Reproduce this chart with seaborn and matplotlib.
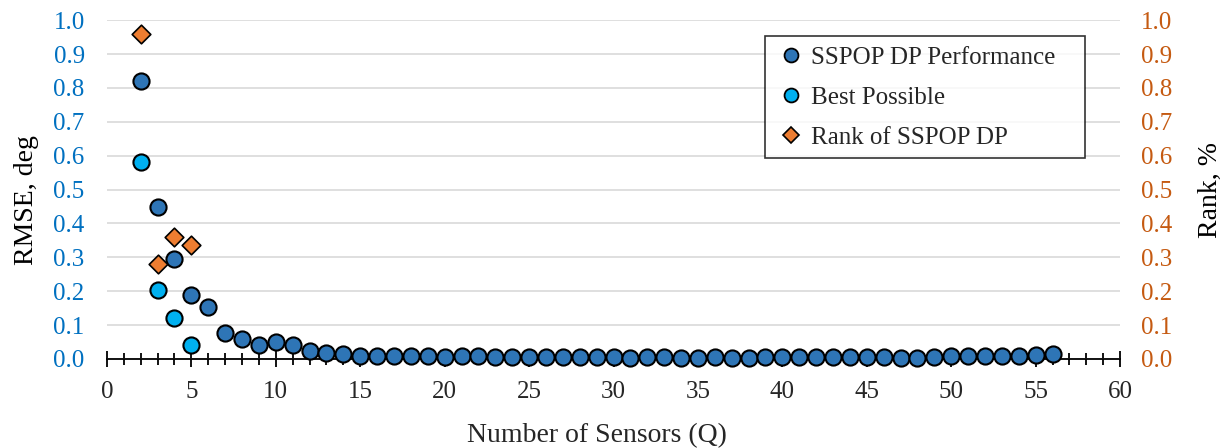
import matplotlib
matplotlib.use("Agg")
import matplotlib.pyplot as plt
import seaborn as sns
import numpy as np
import pandas as pd
from matplotlib.ticker import MultipleLocator
from matplotlib.lines import Line2D

sensors = list(range(2, 57))
sspop_rmse = [0.82, 0.45, 0.295, 0.19, 0.152, 0.077, 0.06, 0.04, 0.05, 0.04,
              0.025, 0.018, 0.015, 0.01, 0.01, 0.01, 0.009, 0.008, 0.007, 0.008,
              0.008, 0.007, 0.006, 0.006, 0.006, 0.006, 0.005, 0.006, 0.005, 0.004,
              0.005, 0.005, 0.004, 0.004, 0.005, 0.004, 0.004, 0.005, 0.005, 0.005,
              0.006, 0.006, 0.006, 0.005, 0.005, 0.004, 0.004, 0.006, 0.008, 0.008,
              0.008, 0.008, 0.009, 0.011, 0.014]
best_q = [2, 3, 4, 5]
best_rmse = [0.58, 0.205, 0.12, 0.04]
rank_q = [2, 3, 4, 5]
rank_pct = [0.96, 0.28, 0.36, 0.335]

c_dark = "#2E75B6"
c_light = "#00B0F0"
c_orange = "#ED7D31"
c_left = "#0070C0"
c_right = "#C55A11"

sns.set_theme(style="white")
plt.rcParams['font.family'] = ['Liberation Serif', 'DejaVu Serif']

fig = plt.figure(figsize=(12.28, 4.48), dpi=100)
ax = fig.add_axes([0.0871, 0.1987, 0.8250, 0.7563])
ax2 = ax.twinx()

df1 = pd.DataFrame({"Q": sensors, "RMSE": sspop_rmse})
df2 = pd.DataFrame({"Q": best_q, "RMSE": best_rmse})
df3 = pd.DataFrame({"Q": rank_q, "Rank": rank_pct})

sns.scatterplot(data=df1, x="Q", y="RMSE", ax=ax, color=c_dark, s=135,
                edgecolor="black", linewidth=1.5, zorder=5, clip_on=False)
sns.scatterplot(data=df2, x="Q", y="RMSE", ax=ax, color=c_light, s=135,
                edgecolor="black", linewidth=1.5, zorder=5, clip_on=False)
sns.scatterplot(data=df3, x="Q", y="Rank", ax=ax2, color=c_orange, s=90, marker="D",
                edgecolor="black", linewidth=1.2, zorder=5, clip_on=False)

ax.set_xlim(0, 60)
ax.set_ylim(0, 1.0)
ax2.set_ylim(0, 1.0)
yt = np.arange(0, 1.01, 0.1)
ax.set_yticks(yt)
ax2.set_yticks(yt)
ax.set_yticklabels([f"{v:.1f}" for v in yt], color=c_left, fontsize=18)
ax2.set_yticklabels([f"{v:.1f}" for v in yt], color=c_right, fontsize=18)
ax.xaxis.set_major_locator(MultipleLocator(5))
ax.xaxis.set_minor_locator(MultipleLocator(1))
ax.tick_params(axis="x", which="major", direction="inout", length=11, width=1.3,
               color="black", labelsize=18, pad=10, bottom=True)
ax.tick_params(axis="x", which="minor", direction="inout", length=8, width=1.3,
               color="black", bottom=True)
ax.tick_params(axis="y", length=0, pad=16)
ax2.tick_params(axis="y", length=0, pad=15)

for s in ["left", "right", "top"]:
    ax.spines[s].set_visible(False)
    ax2.spines[s].set_visible(False)
ax2.spines["bottom"].set_visible(False)
ax.spines["bottom"].set_color("black")
ax.spines["bottom"].set_linewidth(1.3)

ax.grid(axis="y", color="#D9D9D9", linewidth=1.2)
ax.set_axisbelow(True)

ax.set_xlabel("Number of Sensors (Q)", fontsize=20, color="#262626", labelpad=6)
ax.xaxis.set_label_coords(0.484, -0.19)
ax.set_ylabel("RMSE, deg", fontsize=20, color="black", labelpad=10)
ax.yaxis.set_label_coords(-0.067, 0.47)
ax2.set_ylabel("Rank, %", fontsize=20, color="black", labelpad=10)
ax2.yaxis.set_label_coords(1.077, 0.5)

handles = [
    Line2D([], [], marker="o", linestyle="none", markerfacecolor=c_dark,
           markeredgecolor="black", markersize=10, markeredgewidth=1.3),
    Line2D([], [], marker="o", linestyle="none", markerfacecolor=c_light,
           markeredgecolor="black", markersize=10, markeredgewidth=1.3),
    Line2D([], [], marker="D", linestyle="none", markerfacecolor=c_orange,
           markeredgecolor="black", markersize=8, markeredgewidth=1.2),
]
leg = ax2.legend(handles, ["SSPOP DP Performance", "Best Possible", "Rank of SSPOP DP"],
                 loc="upper left", mode="expand",
                 bbox_to_anchor=(765 / 1228, 1 - 155 / 448, 320 / 1228, 119 / 448),
                 bbox_transform=fig.transFigure, fontsize=18,
                 frameon=True, fancybox=False, edgecolor="black", handletextpad=0.15,
                 handlelength=1.3, labelspacing=0.7, borderpad=0.4, borderaxespad=0)
leg.get_frame().set_linewidth(1.2)
if ax.get_legend():
    ax.get_legend().remove()

fig.savefig("out.png", dpi=100)
